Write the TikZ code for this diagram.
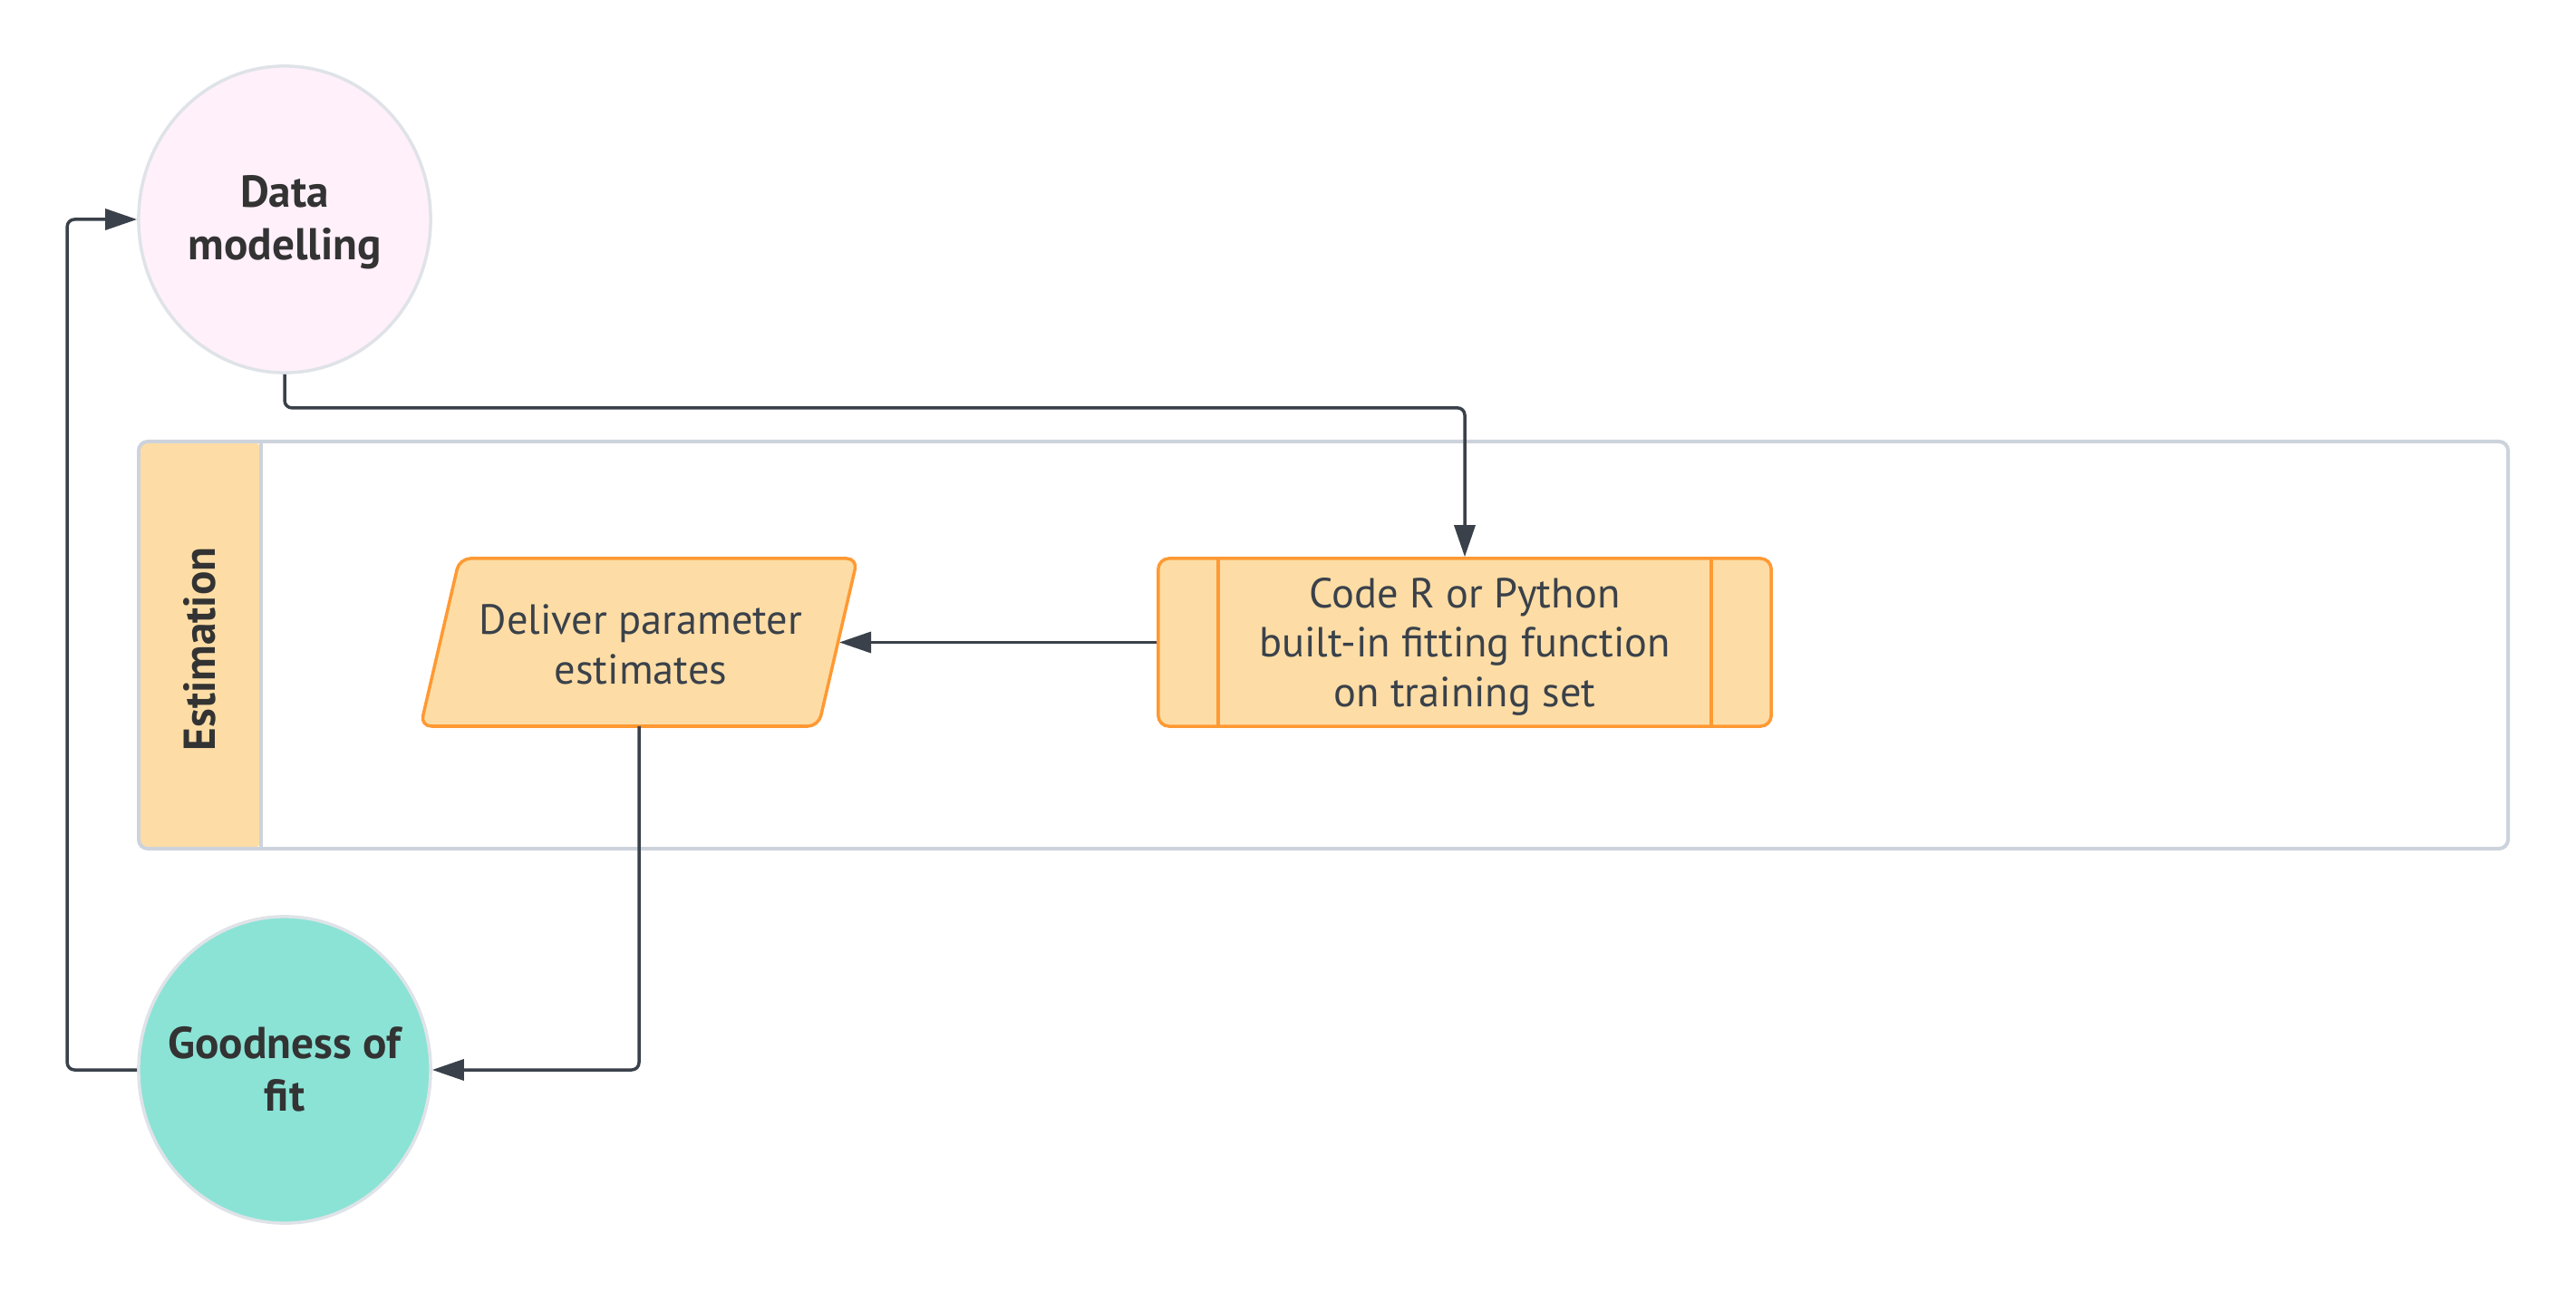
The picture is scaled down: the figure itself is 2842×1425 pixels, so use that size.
\documentclass[tikz,border=0pt]{standalone}
\usepackage{fontspec}
\setmainfont{PT Sans}
\usetikzlibrary{shapes.geometric,arrows.meta,calc}
\definecolor{linec}{HTML}{3A414A}
\definecolor{txtreg}{HTML}{3A414A}
\definecolor{txtbold}{HTML}{333333}
\definecolor{pinkfill}{HTML}{FFF0FA}
\definecolor{tealfill}{HTML}{8BE3D6}
\definecolor{circborder}{HTML}{DFE3E8}
\definecolor{orfill}{HTML}{FDDDA5}
\definecolor{orborder}{HTML}{FF9933}
\definecolor{lanebord}{HTML}{CDD3DC}
\tikzset{
  conn/.style={draw=linec, line width=0.035cm, rounded corners=0.08cm,
    -{Triangle[length=0.35cm,width=0.23cm]}},
  bubble/.style={ellipse, draw=circborder, line width=0.035cm,
    minimum width=3.22cm, minimum height=3.38cm, inner sep=0pt},
  boldtext/.style={align=center, text=txtbold, inner sep=0pt,
    font=\bfseries\fontsize{14pt}{16.5pt}\selectfont},
  orbox/.style={draw=orborder, fill=orfill, line width=0.035cm, rounded corners=0.12cm},
  regtext/.style={align=center, text=txtreg, font=\fontsize{13.2pt}{15.5pt}\selectfont, inner sep=0pt},
}
\begin{document}
\begin{tikzpicture}[x=0.01cm,y=-0.01cm]
\useasboundingbox (0,0) rectangle (2842,1425);
\fill[white] (0,0) rectangle (2842,1425);

% swimlane container
\fill[orfill, rounded corners=0.1cm] (153,487) rectangle (288,936);
\draw[lanebord, line width=0.04cm] (288,487) -- (288,936);
\draw[lanebord, line width=0.04cm, rounded corners=0.1cm] (153,487) rectangle (2767,936);
\node[rotate=90, text=txtbold, font=\bfseries\fontsize{14pt}{17pt}\selectfont] (lane) at (220,716) {Estimation};

% Data modelling
\node[bubble, fill=pinkfill] (data) at (314,242) {};
\node[boldtext] (datatext) at (314,245) {Data\\modelling};
% Goodness of fit
\node[bubble, fill=tealfill] (good) at (314,1180) {};
\node[boldtext] (goodtext) at (314,1179) {Goodness of\\fit};

% Code box
\node[orbox, minimum width=6.76cm, minimum height=1.85cm, inner sep=0pt] (code) at (1616,708.5) {};
\draw[orborder, line width=0.035cm] ($(code.north west)+(68,0)$) -- ($(code.south west)+(68,0)$);
\draw[orborder, line width=0.035cm] ($(code.north east)+(-68,0)$) -- ($(code.south east)+(-68,0)$);
\node[regtext] (codetext) at (1616,713) {Code R or Python\\built-in fitting function\\on training set};

% Deliver parallelogram
\draw[orbox] (464,801) -- (507,616) -- (946,616) -- (903,801) -- cycle;
\node[regtext] (deliver) at (707,711) {Deliver parameter\\estimates};
\coordinate (deliverR) at (926,708.5);
\coordinate (deliverB) at (705,801);

% connectors
\draw[conn] (data.south) -- ++(0,37) -| (code.north);
\draw[conn] (code.west) -- (deliverR);
\draw[conn] (deliverB) |- (good.east);
\draw[conn] (good.west) -- ++(-77,0) |- (data.west);
\end{tikzpicture}
\end{document}
